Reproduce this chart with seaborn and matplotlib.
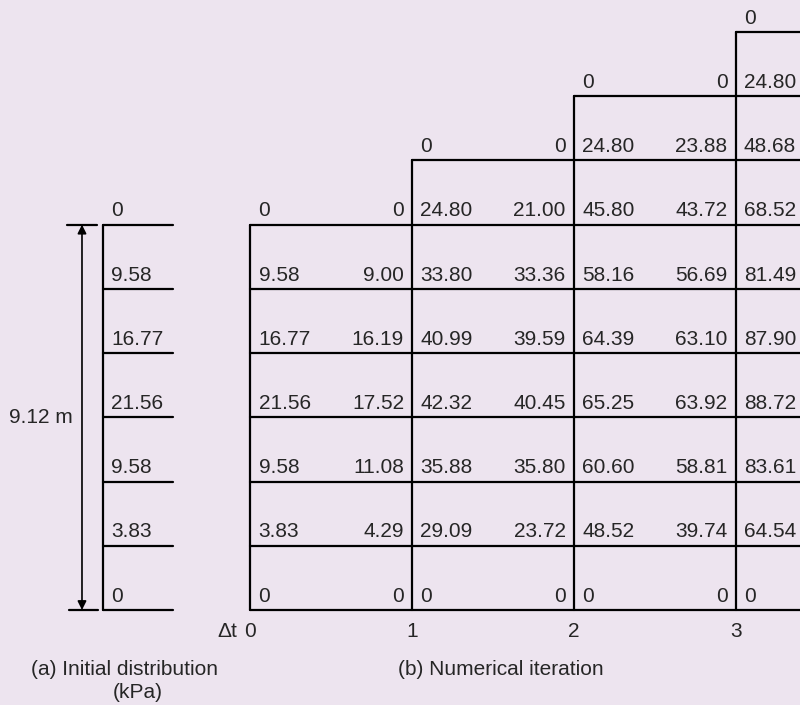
import pandas as pd
import matplotlib.pyplot as plt
import seaborn as sns

# Values (kPa), top of layer to bottom
initial = [0, 9.58, 16.77, 21.56, 9.58, 3.83, 0]

col0_left = [0, 9.58, 16.77, 21.56, 9.58, 3.83, 0]
col0_right = [0, 9.00, 16.19, 17.52, 11.08, 4.29, 0]
col1_left = [0, 24.80, 33.80, 40.99, 42.32, 35.88, 29.09, 0]
col1_right = [0, 21.00, 33.36, 39.59, 40.45, 35.80, 23.72, 0]
col2_left = [0, 24.80, 45.80, 58.16, 64.39, 65.25, 60.60, 48.52, 0]
col2_right = [0, 23.88, 43.72, 56.69, 63.10, 63.92, 58.81, 39.74, 0]
col3_left = [0, 24.80, 48.68, 68.52, 81.49, 87.90, 88.72, 83.61, 64.54, 0]

steps = [0, 1, 2, 3]
step_labels = ["0", "1", "2", "3"]
left_cols = [col0_left, col1_left, col2_left, col3_left]
right_cols = [col0_right, col1_right, col2_right, None]

bottom_level = 9  # level index of the base of the layer
thickness_label = "9.12 m"

sns.set_theme(style="white")
plt.rcParams['font.family'] = ['Liberation Sans', 'DejaVu Sans']

bg = '#EDE4EF'
fs = 15

fig = plt.figure(figsize=(8, 7.05), dpi=100, facecolor=bg)
ax = fig.add_axes([0, 0, 1, 1])
ax.set_facecolor(bg)

def fmt(v):
    return "0" if v == 0 else f"{v:.2f}"

# layout of the left panel (same units as the iteration grid)
lp_x0, lp_x1 = -0.912, -0.479
arrow_x = -1.042
right_edge = 3.5
dx = 0.05   # text gap from a vertical line
dy = 0.13   # text gap above a horizontal line

# build line segments
segs = []
sid = 0
def add(x0, y0, x1, y1):
    global sid
    segs.append((sid, x0, y0))
    segs.append((sid, x1, y1))
    sid += 1

# left panel
top_init = bottom_level - (len(initial) - 1)
add(lp_x0, top_init, lp_x0, bottom_level)
for i in range(len(initial)):
    add(lp_x0, top_init + i, lp_x1, top_init + i)
add(arrow_x - 0.09, top_init, arrow_x + 0.09, top_init)
add(arrow_x - 0.08, bottom_level, arrow_x + 0.1, bottom_level)

# iteration grid
for t, vals in zip(steps, left_cols):
    top = bottom_level - (len(vals) - 1)
    add(t, top, t, bottom_level)
    add(t, top, right_edge, top)
for k in range(top_init + 1, bottom_level + 1):
    add(0, k, right_edge, k)

seg_df = pd.DataFrame(segs, columns=["seg", "x", "y"])
sns.lineplot(data=seg_df, x="x", y="y", units="seg", estimator=None,
             sort=False, color="black", lw=1.6, ax=ax, legend=False)
ax.set_xlim(-1.549, 3.398)
ax.set_ylim(10.479, -0.498)
ax.axis('off')

# dimension arrow
ax.annotate('', xy=(arrow_x, top_init), xytext=(arrow_x, bottom_level),
            arrowprops=dict(arrowstyle='<|-|>', color='black', lw=1.2,
                            mutation_scale=13, shrinkA=0, shrinkB=0))
ax.text(arrow_x - 0.056, (top_init + bottom_level) / 2, thickness_label,
        ha='right', va='center', fontsize=fs)

# left panel values
for i, v in enumerate(initial):
    ax.text(lp_x0 + dx, top_init + i - dy, fmt(v), ha='left',
            va='baseline', fontsize=fs)

# iteration values
for t, lv, rv in zip(steps, left_cols, right_cols):
    top = bottom_level - (len(lv) - 1)
    for i, v in enumerate(lv):
        ax.text(t + dx, top + i - dy, fmt(v), ha='left', va='baseline', fontsize=fs)
    if rv is not None:
        for i, v in enumerate(rv):
            ax.text(t + 1 - dx, top + i - dy, fmt(v), ha='right',
                    va='baseline', fontsize=fs)

# time step labels
for t, lab in zip(steps, step_labels):
    ax.text(t, 9.33, lab, ha='center', va='center', fontsize=fs)
ax.text(-0.083, 9.33, "Δt", ha='right', va='center', fontsize=fs)

# captions
ax.text(-0.779, 9.93, "(a) Initial distribution", ha='center', va='center', fontsize=fs)
ax.text(-0.696, 10.29, "(kPa)", ha='center', va='center', fontsize=fs)
ax.text(1.55, 9.93, "(b) Numerical iteration", ha='center', va='center', fontsize=fs)

fig.savefig("out.png", dpi=100, facecolor=bg)
